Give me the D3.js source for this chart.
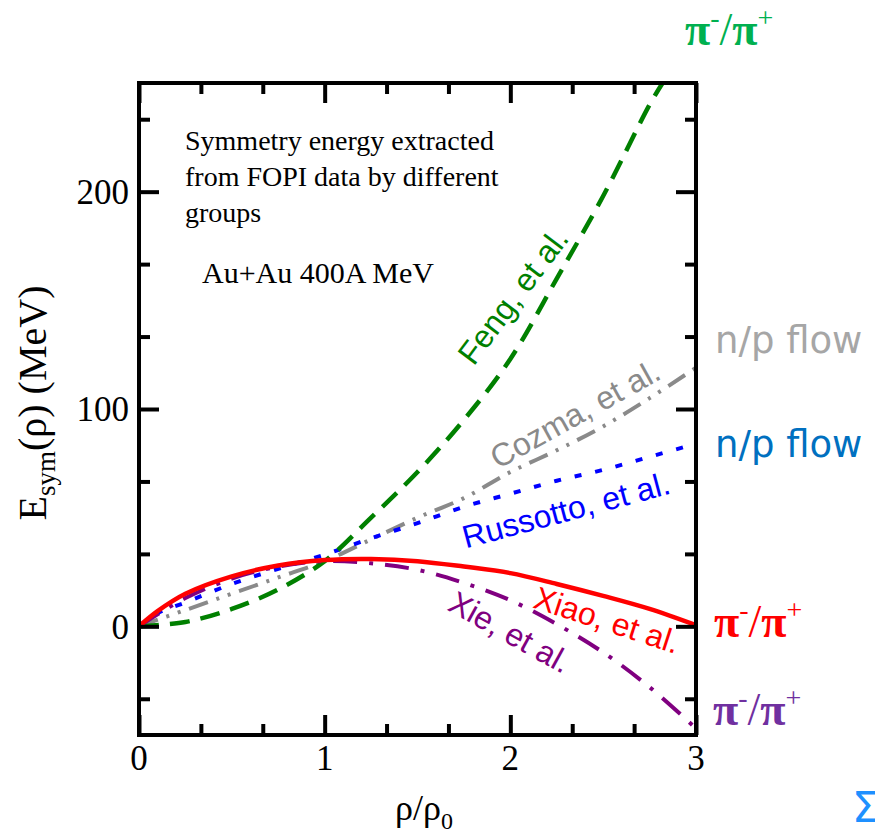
<!DOCTYPE html>
<html>
<head>
<meta charset="utf-8">
<script src="https://cdn.jsdelivr.net/npm/d3@7"></script>
<style>
  body { margin: 0; background: #fff; }
  svg { display: block; }
</style>
</head>
<body>
<svg id="chart" width="875" height="834"></svg>
<script>
// ---- data ----
const fengRho  = [0, 0.25, 0.5, 0.75, 1.0, 1.25, 1.5, 1.75, 2.0, 2.25, 2.5, 2.75, 2.82];
const fengE    = [0, 2, 8, 17, 30, 50, 71, 95, 123, 160, 198, 240, 250];
const cozmaRho = [0, 0.25, 0.5, 0.75, 1.0, 1.25, 1.5, 1.75, 2.0, 2.25, 2.5, 2.75, 3.0];
const cozmaE   = [0, 7.5, 15, 22.5, 30, 40, 50, 59, 71, 81, 92, 105, 119];
const russRho  = [0, 0.1, 0.25, 0.5, 0.75, 1.0, 1.25, 1.5, 1.75, 2.0, 2.25, 2.5, 2.75, 3.0];
const russE    = [0, 6, 11, 19.5, 26.5, 33, 40.5, 47.5, 55, 61, 67, 72, 78, 84];
const xiaoRho  = [0, 0.1, 0.25, 0.5, 0.75, 1.0, 1.25, 1.5, 1.75, 2.0, 2.25, 2.5, 2.75, 3.0];
const xiaoE    = [0, 7, 15, 23, 28, 30.5, 31, 30, 27.5, 24.5, 19.5, 14, 8, 0.5];
const xieRho   = [0, 0.1, 0.25, 0.5, 0.75, 1.0, 1.25, 1.5, 1.75, 2.0, 2.25, 2.5, 2.75, 3.0];
const xieE     = [0, 5.5, 13, 22, 27.5, 30, 29, 26, 20, 12, 1, -12, -28, -47];

const xTicks = [0, 1, 2, 3];
const yTicks = [0, 100, 200];
const xDomain = [0, 3];
const yDomain = [-50, 250];

const svg = d3.select("#chart");
const L = 139, R = 696, T = 83, B = 735;
const x = d3.scaleLinear().domain(xDomain).range([L, R]);
const y = d3.scaleLinear().domain(yDomain).range([B, T]);

svg.append("defs").append("clipPath").attr("id", "clip")
  .append("rect").attr("x", L).attr("y", T).attr("width", R - L).attr("height", B - T);

const line = d3.line().x(d => x(d[0])).y(d => y(d[1])).curve(d3.curveCatmullRom.alpha(0.5));
const zip = (a, b) => a.map((v, i) => [v, b[i]]);

const series = [
  { rho: cozmaRho, e: cozmaE, color: "#8a8a8a", dash: "20,9,3,9,3,9", w: 4 },
  { rho: russRho,  e: russE,  color: "#0000ff", dash: "7,14", w: 4 },
  { rho: fengRho,  e: fengE,  color: "#008000", dash: "20,11", w: 4.5 },
  { rho: xieRho,   e: xieE,   color: "#800080", dash: "24,12,4,12", w: 4 },
  { rho: xiaoRho,  e: xiaoE,  color: "#ff0000", dash: null, w: 4.5 }
];
const g = svg.append("g").attr("clip-path", "url(#clip)");
series.forEach(s => {
  g.append("path")
    .attr("d", line(zip(s.rho, s.e)))
    .attr("fill", "none")
    .attr("stroke", s.color)
    .attr("stroke-width", s.w)
    .attr("stroke-dasharray", s.dash)
    .attr("stroke-linejoin", "round");
});

// ---- axes (ticks inside on all four sides) ----
const minorX = d3.range(0, 10).map(i => i / 3).filter(v => Math.abs(v - Math.round(v)) > 1e-6);
const minorY = d3.range(-1, 8).map(i => i * 100 / 3).filter(v => Math.abs(v / 100 - Math.round(v / 100)) > 1e-6);

function addAxis(axisFn, scale, ticks, size, transform) {
  const a = axisFn(scale).tickValues(ticks).tickSize(size).tickFormat("");
  const gg = svg.append("g").attr("transform", transform).call(a);
  gg.select(".domain").remove();
  gg.selectAll("line").attr("stroke", "#000").attr("stroke-width", 4);
  return gg;
}
// bottom
addAxis(d3.axisTop, x, xTicks, 20, `translate(0,${B})`);
addAxis(d3.axisTop, x, minorX, 11, `translate(0,${B})`);
// top
addAxis(d3.axisBottom, x, xTicks, 20, `translate(0,${T})`);
addAxis(d3.axisBottom, x, minorX, 11, `translate(0,${T})`);
// left
addAxis(d3.axisRight, y, yTicks, 20, `translate(${L},0)`);
addAxis(d3.axisRight, y, minorY, 11, `translate(${L},0)`);
// right
addAxis(d3.axisLeft, y, yTicks, 20, `translate(${R},0)`);
addAxis(d3.axisLeft, y, minorY, 11, `translate(${R},0)`);

svg.append("rect").attr("x", L).attr("y", T).attr("width", R - L).attr("height", B - T)
  .attr("fill", "none").attr("stroke", "#000").attr("stroke-width", 4);

const serif = "'Liberation Serif', 'Times New Roman', serif";
const sans = "'Liberation Sans', Arial, sans-serif";
const verd = "'DejaVu Sans', Verdana, sans-serif";

// tick labels
svg.append("g").selectAll("text").data(xTicks).join("text")
  .attr("x", d => x(d)).attr("y", 770)
  .attr("text-anchor", "middle").attr("font-family", serif).attr("font-size", 35)
  .text(d => d);
svg.append("g").selectAll("text").data(yTicks).join("text")
  .attr("x", 129).attr("y", d => y(d)).attr("dy", "0.35em")
  .attr("text-anchor", "end").attr("font-family", serif).attr("font-size", 35)
  .text(d => d);

// axis titles
const xt = svg.append("text").attr("x", 424).attr("y", 820)
  .attr("text-anchor", "middle").attr("font-family", serif).attr("font-size", 36);
xt.append("tspan").text("ρ/ρ");
xt.append("tspan").attr("font-size", 24).attr("dy", 9).text("0");

const yt = svg.append("text").attr("transform", "translate(46,403) rotate(-90)")
  .attr("text-anchor", "middle").attr("font-family", serif).attr("font-size", 40);
yt.append("tspan").text("E");
yt.append("tspan").attr("font-size", 27).attr("dy", 9).text("sym");
yt.append("tspan").attr("dy", -9).text("(ρ) (MeV)");

// annotation
const ann = ["Symmetry energy extracted", "from FOPI data by different", "groups"];
svg.append("g").selectAll("text").data(ann).join("text")
  .attr("x", 185).attr("y", (d, i) => 150 + i * 36)
  .attr("font-family", serif).attr("font-size", 28).text(d => d);
svg.append("text").attr("x", 202).attr("y", 283)
  .attr("font-family", serif).attr("font-size", 30).text("Au+Au 400A MeV");

// curve labels
const labels = [
  { t: "Feng, et al.",     cx: 513, cy: 296, a: -53, c: "#008000" },
  { t: "Cozma, et al.",    cx: 575, cy: 414, a: -29, c: "#8a8a8a" },
  { t: "Russotto, et al.", cx: 566, cy: 510, a: -15, c: "#0000ff" },
  { t: "Xiao, et al.",     cx: 607, cy: 620, a: 18,  c: "#ff0000" },
  { t: "Xie, et al.",      cx: 510, cy: 632, a: 29,  c: "#800080" }
];
svg.append("g").selectAll("text").data(labels).join("text")
  .attr("transform", d => `translate(${d.cx},${d.cy}) rotate(${d.a})`)
  .attr("text-anchor", "middle").attr("dy", "0.35em")
  .attr("font-family", sans).attr("font-size", 32).attr("fill", d => d.c)
  .text(d => d.t);

// right-side method labels
function piLabel(px, py, color) {
  const t = svg.append("text").attr("x", px).attr("y", py)
    .attr("font-family", serif).attr("font-size", 46).attr("fill", color);
  t.append("tspan").attr("font-weight", "bold").text("π");
  t.append("tspan").attr("font-size", 28).attr("dy", -18).text("-");
  t.append("tspan").attr("dy", 18).text("/");
  t.append("tspan").attr("font-weight", "bold").text("π");
  t.append("tspan").attr("font-size", 28).attr("dy", -18).text("+");
}
piLabel(685, 45, "#00b050");
piLabel(714, 637, "#ff0000");
piLabel(713, 725, "#7030a0");

svg.append("text").attr("x", 715).attr("y", 353).attr("font-family", verd)
  .attr("font-size", 37).attr("fill", "#a6a6a6").text("n/p flow");
svg.append("text").attr("x", 715).attr("y", 457).attr("font-family", verd)
  .attr("font-size", 37).attr("fill", "#0070c0").text("n/p flow");
svg.append("text").attr("x", 852).attr("y", 822).attr("font-family", verd)
  .attr("font-size", 42).attr("fill", "#1e90ff").text("Σ");
</script>
</body>
</html>
